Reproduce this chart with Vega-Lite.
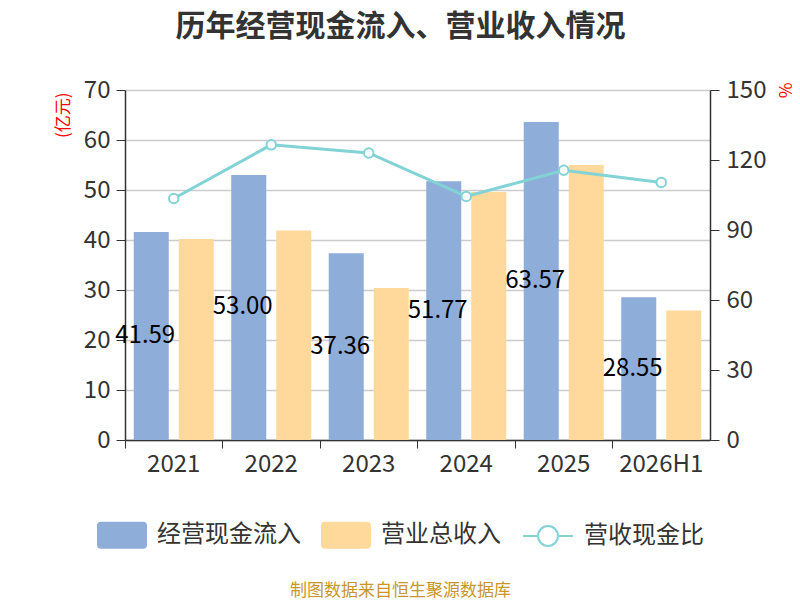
{
  "$schema": "https://vega.github.io/schema/vega-lite/v6.json",
  "width": 585,
  "height": 350,
  "autosize": {"type": "none"},
  "padding": {"left": 125, "top": 90, "right": 90, "bottom": 160},
  "title": {
    "text": "历年经营现金流入、营业收入情况",
    "fontSize": 30,
    "fontWeight": "bold",
    "color": "#333333",
    "anchor": "middle",
    "dx": -17,
    "offset": 36
  },
  "datasets": {
    "bars": [
      {"year": "2021", "series": "经营现金流入", "value": 41.594},
      {"year": "2021", "series": "营业总收入", "value": 40.2},
      {"year": "2022", "series": "经营现金流入", "value": 53.009},
      {"year": "2022", "series": "营业总收入", "value": 41.9},
      {"year": "2023", "series": "经营现金流入", "value": 37.364},
      {"year": "2023", "series": "营业总收入", "value": 30.4},
      {"year": "2024", "series": "经营现金流入", "value": 51.772},
      {"year": "2024", "series": "营业总收入", "value": 49.6},
      {"year": "2025", "series": "经营现金流入", "value": 63.577},
      {"year": "2025", "series": "营业总收入", "value": 55.0},
      {"year": "2026H1", "series": "经营现金流入", "value": 28.557},
      {"year": "2026H1", "series": "营业总收入", "value": 25.9}
    ],
    "ratio": [
      {"year": "2021", "ratio": 103.5},
      {"year": "2022", "ratio": 126.5},
      {"year": "2023", "ratio": 123.0},
      {"year": "2024", "ratio": 104.4},
      {"year": "2025", "ratio": 115.6},
      {"year": "2026H1", "ratio": 110.4}
    ]
  },
  "layer": [
    {
      "data": {"name": "bars"},
      "mark": {"type": "bar"},
      "encoding": {
        "x": {
          "field": "year",
          "type": "nominal",
          "sort": null,
          "scale": {"paddingInner": 0, "paddingOuter": 0},
          "axis": {
            "title": "制图数据来自恒生聚源数据库",
            "titleColor": "#c8962c",
            "titleFontSize": 17,
            "titleFontWeight": "normal",
            "titleX": 275,
            "titleY": 150,
            "titleBaseline": "middle",
            "labelAngle": 0,
            "labelFontSize": 24,
            "labelColor": "#333333",
            "labelPadding": 4,
            "bandPosition": 0,
            "tickSize": 8,
            "tickColor": "#333333",
            "domainColor": "#333333",
            "domainWidth": 1.5
          }
        },
        "xOffset": {
          "field": "series",
          "scale": {"domain": ["经营现金流入", "营业总收入"], "paddingInner": 0.222, "paddingOuter": 0.194}
        },
        "y": {
          "field": "value",
          "type": "quantitative",
          "scale": {"domain": [0, 70]},
          "axis": {
            "orient": "left",
            "values": [0, 10, 20, 30, 40, 50, 60, 70],
            "title": "(亿元)",
            "titleColor": "red",
            "titleFontSize": 17,
            "titleFontWeight": "normal",
            "titleAngle": -90,
            "titleX": -62,
            "titleY": 2,
            "titleAlign": "right",
            "titleBaseline": "middle",
            "labelFontSize": 24,
            "labelColor": "#333333",
            "labelPadding": 6,
            "tickSize": 9,
            "tickColor": "#333333",
            "domainColor": "#333333",
            "domainWidth": 1.5,
            "grid": true,
            "gridColor": "#cccccc",
            "gridWidth": 1.5
          }
        },
        "color": {
          "field": "series",
          "type": "nominal",
          "scale": {"domain": ["经营现金流入", "营业总收入"], "range": ["#8eadd9", "#fed99b"]},
          "legend": {
            "title": null,
            "orient": "none",
            "direction": "horizontal",
            "legendX": -28,
            "legendY": 420,
            "padding": 0,
            "symbolType": "M-0.84,-0.54 L0.84,-0.54 Q1,-0.54 1,-0.38 L1,0.38 Q1,0.54 0.84,0.54 L-0.84,0.54 Q-1,0.54 -1,0.38 L-1,-0.38 Q-1,-0.54 -0.84,-0.54 Z",
            "symbolSize": 2500,
            "symbolStrokeWidth": 0,
            "labelFontSize": 24,
            "labelColor": "#333333",
            "labelOffset": 10,
            "columnPadding": 20
          }
        }
      }
    },
    {
      "data": {"name": "bars"},
      "transform": [{"filter": "datum.series == '经营现金流入'"}],
      "mark": {
        "type": "text",
        "fontSize": 24,
        "color": "black",
        "align": "left",
        "baseline": "middle",
        "dx": -36,
        "limit": 64,
        "ellipsis": "\u200b"
      },
      "encoding": {
        "x": {"field": "year", "type": "nominal", "sort": null},
        "xOffset": {"field": "series"},
        "y": {
          "field": "value",
          "type": "quantitative",
          "scale": {"domain": [0, 140]},
          "axis": null
        },
        "text": {"field": "value", "type": "quantitative", "format": ".3f"}
      }
    },
    {
      "data": {"name": "ratio"},
      "mark": {
        "type": "line",
        "strokeWidth": 3,
        "point": {"filled": true, "fill": "white", "stroke": "#82d3d6", "strokeWidth": 2, "size": 90}
      },
      "encoding": {
        "x": {"field": "year", "type": "nominal", "sort": null},
        "y": {
          "field": "ratio",
          "type": "quantitative",
          "scale": {"domain": [0, 150]},
          "axis": {
            "orient": "right",
            "values": [0, 30, 60, 90, 120, 150],
            "title": "%",
            "titleColor": "red",
            "titleFontSize": 17,
            "titleFontWeight": "normal",
            "titleAngle": 90,
            "titleX": 73,
            "titleY": -8,
            "titleAlign": "left",
            "titleBaseline": "middle",
            "labelFontSize": 24,
            "labelColor": "#333333",
            "labelPadding": 7,
            "tickSize": 9,
            "tickColor": "#333333",
            "domainColor": "#333333",
            "domainWidth": 1.5,
            "grid": false
          }
        },
        "stroke": {
          "datum": "营收现金比",
          "type": "nominal",
          "scale": {"domain": ["营收现金比"], "range": ["#82d3d6"]},
          "legend": {
            "title": null,
            "orient": "none",
            "direction": "horizontal",
            "legendX": 397,
            "legendY": 420,
            "padding": 0,
            "symbolType": "M-1,0 L-0.4,0 M0.4,0 L1,0 M-0.4,0 A0.4,0.4 0 1,1 0.4,0 A0.4,0.4 0 1,1 -0.4,0 Z",
            "symbolSize": 2500,
            "symbolFillColor": "white",
            "symbolStrokeWidth": 2,
            "labelFontSize": 24,
            "labelColor": "#333333",
            "labelOffset": 10
          }
        }
      }
    }
  ],
  "resolve": {"scale": {"y": "independent"}},
  "config": {
    "font": "Noto Sans CJK SC",
    "view": {"stroke": null}
  }
}
